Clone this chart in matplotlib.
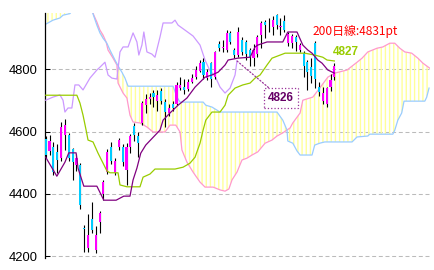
import numpy as np
import matplotlib.pyplot as plt

plt.rcParams['font.family'] = ['Liberation Sans', 'DejaVu Sans']

# daily candles, oldest first
opens = [4576, 4539, 4552, 4535, 4514, 4589, 4589, 4544, 4493, 4493,
         4290, 4227, 4320, 4220, 4311, 4400, 4471, 4550, 4468, 4550,
         4552, 4477, 4550, 4618, 4586, 4628, 4685, 4705, 4724, 4700,
         4730, 4695, 4660, 4690, 4690, 4740, 4745, 4738, 4760, 4775,
         4795, 4823, 4772, 4820, 4775, 4880, 4868, 4862, 4916, 4862,
         4846, 4894, 4888, 4862, 4835, 4850, 4910, 4952, 4950, 4936,
         4975, 4935, 4955, 4885, 4885, 4905, 4862, 4852, 4823, 4807,
         4884, 4745, 4700, 4690, 4745, 4775]
highs = [4585, 4590, 4568, 4560, 4632, 4642, 4595, 4548, 4528, 4500,
         4300, 4335, 4375, 4298, 4345, 4445, 4545, 4568, 4515, 4580,
         4562, 4565, 4592, 4628, 4600, 4700, 4720, 4725, 4735, 4735,
         4740, 4705, 4690, 4700, 4760, 4775, 4770, 4770, 4785, 4810,
         4830, 4835, 4800, 4825, 4860, 4890, 4895, 4925, 4922, 4870,
         4935, 4905, 4895, 4870, 4880, 4910, 4955, 4960, 4965, 4970,
         4978, 4965, 4975, 4920, 4915, 4910, 4885, 4858, 4830, 4835,
         4890, 4760, 4745, 4745, 4785, 4822]
lows = [4515, 4525, 4460, 4468, 4505, 4540, 4505, 4445, 4475, 4352,
        4215, 4214, 4275, 4210, 4275, 4382, 4465, 4495, 4460, 4540,
        4490, 4428, 4530, 4570, 4520, 4620, 4660, 4690, 4680, 4665,
        4690, 4615, 4650, 4665, 4685, 4735, 4720, 4730, 4755, 4770,
        4790, 4770, 4765, 4745, 4770, 4860, 4855, 4855, 4880, 4835,
        4840, 4845, 4830, 4810, 4810, 4840, 4870, 4900, 4920, 4910,
        4930, 4910, 4920, 4875, 4870, 4860, 4855, 4775, 4735, 4755,
        4740, 4715, 4690, 4680, 4730, 4765]
closes = [4525, 4571, 4471, 4509, 4616, 4622, 4514, 4503, 4514, 4365,
          4286, 4268, 4285, 4268, 4340, 4439, 4535, 4507, 4505, 4573,
          4503, 4550, 4585, 4589, 4563, 4692, 4705, 4711, 4711, 4718,
          4700, 4663, 4676, 4676, 4750, 4750, 4734, 4760, 4772, 4798,
          4820, 4782, 4790, 4770, 4856, 4868, 4872, 4917, 4888, 4846,
          4920, 4856, 4849, 4839, 4862, 4904, 4949, 4944, 4948, 4958,
          4942, 4940, 4926, 4912, 4907, 4888, 4878, 4810, 4790, 4778,
          4770, 4728, 4724, 4740, 4765, 4812]

# ichimoku lines as (bar, value)
tenkan_x = [0, 2.9, 5, 6, 7.9, 8.4, 9.9, 13.3, 15.1, 18.3, 20.3, 21.9, 22.7,
            23.7, 24.7, 26, 28, 29.7, 30.5, 32.3, 34.4, 36.7, 38.8, 40.1,
            41.4, 43.2, 44.8, 46.6, 47.4, 49.9, 53.1, 54.4, 55.1, 57.5, 61.6,
            62.9, 65.3, 66.8, 68.1, 69.2, 70.7, 71.8, 73.3, 75]
tenkan_y = [4518, 4457, 4502, 4532, 4532, 4483, 4425, 4425, 4380, 4380, 4393,
            4393, 4445, 4483, 4531, 4557, 4583, 4605, 4637, 4660, 4685, 4708,
            4743, 4759, 4775, 4782, 4791, 4814, 4830, 4836, 4839, 4872, 4878,
            4888, 4888, 4920, 4920, 4878, 4862, 4852, 4830, 4820, 4798, 4788]

kijun_x = [0, 8.1, 8.9, 9.7, 10.5, 11, 12.3, 13.6, 14.9, 15.9, 16.7, 18.8,
           19.3, 21.1, 24.5, 25.3, 27.1, 28.4, 33.6, 35.7, 37.5, 38.8, 40.1,
           40.9, 41.6, 43.2, 45.3, 46.6, 47.4, 49.2, 51.2, 53.1, 54.4, 55.7,
           57.5, 58.8, 62.2, 67.3, 69.9, 72, 73.1, 75]
kijun_y = [4717, 4717, 4692, 4653, 4605, 4573, 4567, 4531, 4499, 4474, 4468,
           4468, 4429, 4423, 4423, 4454, 4464, 4480, 4480, 4486, 4499, 4518,
           4563, 4605, 4637, 4663, 4663, 4685, 4717, 4740, 4750, 4756, 4772,
           4782, 4814, 4836, 4852, 4852, 4846, 4839, 4830, 4827]

chikou_x = [0, 1.9, 3.7, 4.5, 5, 5.8, 6.8, 7.6, 8.6, 9.7, 11.5, 13.3, 14.1,
            15.4, 16.2, 17.2, 18.5, 19.3, 20.1, 21.4, 22.7, 23.7, 24.2, 25,
            25.5, 26.3, 27.6, 28.4, 29.7, 30.5, 32.8, 33.6, 34.4, 36.2, 38.3,
            40.1, 41.4, 42.7, 44, 45.3, 46.6, 47.9, 49.2, 49.7]
chikou_y = [4701, 4711, 4718, 4701, 4663, 4676, 4676, 4750, 4750, 4734, 4772,
            4798, 4807, 4823, 4782, 4772, 4769, 4856, 4872, 4872, 4917, 4888,
            4846, 4878, 4920, 4856, 4849, 4839, 4904, 4949, 4949, 4958, 4942,
            4926, 4907, 4878, 4830, 4795, 4778, 4743, 4724, 4740, 4782, 4827]

span_a_x = [0, 11.5, 12.5, 13.3, 14.1, 14.9, 15.7, 16.2, 17.5, 18.5, 18.8,
            20.1, 21.1, 21.9, 22.7, 24.5, 26.3, 27.9, 31, 32.3, 33.8, 34.9,
            35.4, 36.7, 38.3, 40.1, 41.4, 43.5, 45.3, 46.6, 47.6, 48.4, 49.7,
            51, 52.3, 53.6, 55.1, 57, 58.8, 60.1, 61.6, 63.5, 64.2, 66.1,
            66.8, 69.4, 71.2, 73.3, 75.1, 78.3, 80.9, 82.2, 83.7, 86.1, 87.6,
            89.4, 90.7, 92, 93.3, 95.1, 96.7, 98, 100.2]
span_a_y = [5010, 5010, 4974, 4952, 4926, 4910, 4888, 4862, 4836, 4814, 4756,
            4724, 4708, 4653, 4631, 4628, 4615, 4599, 4599, 4621, 4621, 4599,
            4541, 4502, 4470, 4438, 4422, 4422, 4413, 4409, 4416, 4445, 4470,
            4509, 4515, 4525, 4535, 4563, 4573, 4586, 4596, 4612, 4628, 4660,
            4701, 4711, 4740, 4775, 4788, 4798, 4823, 4836, 4856, 4868, 4872,
            4884, 4884, 4868, 4856, 4852, 4836, 4820, 4800]

span_b_x = [0, 1.9, 3.7, 4.5, 6.3, 7.1, 11.8, 12.3, 13.3, 14.1, 14.9, 15.9,
            16.7, 18, 19, 19.8, 20.6, 21.4, 33.1, 34.1, 34.9, 40.9, 41.6, 43.2,
            45.3, 60.1, 61.6, 62.7, 62.9, 64.2, 65.3, 66.1, 69.2, 69.9, 71.2,
            72.5, 79.6, 80.9, 83.7, 84.2, 90.2, 90.7, 91.5, 92.5, 93.1, 98.5,
            99, 99.6]
span_b_y = [4945, 4958, 4965, 4974, 4979, 4995, 4995, 4978, 4942, 4917, 4900,
            4884, 4862, 4830, 4807, 4791, 4772, 4746, 4746, 4711, 4695, 4695,
            4685, 4679, 4663, 4663, 4637, 4605, 4570, 4563, 4538, 4525, 4525,
            4557, 4563, 4567, 4567, 4583, 4586, 4592, 4592, 4605, 4637, 4660,
            4698, 4698, 4711, 4740]

yticks = [4200, 4400, 4600, 4800]

fig = plt.figure(figsize=(4.34, 2.70), dpi=100)
ax = fig.add_axes([45 / 434, 12.5 / 270, 385 / 434, 244.5 / 270])

# cloud, hatched in pale yellow
cloud_x = np.concatenate([span_a_x, span_b_x[::-1]])
cloud_y = np.concatenate([span_a_y, span_b_y[::-1]])
ax.fill(cloud_x, cloud_y, facecolor='none', edgecolor='#FFFF99',
        hatch='||||', linewidth=0, zorder=1)
ax.plot(span_a_x, span_a_y, color='#FF99CC', lw=0.9, zorder=2)
ax.plot(span_b_x, span_b_y, color='#99CCFF', lw=0.9, zorder=2)
ax.plot(chikou_x, chikou_y, color='#CC99FF', lw=0.9, zorder=3)

# candles
o = np.array(opens)
c = np.array(closes)
idx = np.arange(len(o))
up = c >= o
ax.vlines(idx, lows, highs, color='black', lw=0.8, zorder=4)
ax.bar(idx[up], (c - o)[up], bottom=o[up], width=0.55,
       color='#FF00FF', zorder=5)
ax.bar(idx[~up], (o - c)[~up], bottom=c[~up], width=0.55,
       color='#00CCFF', zorder=5)

ax.plot(kijun_x, kijun_y, color='#99CC00', lw=0.9, zorder=6)
ax.plot(tenkan_x, tenkan_y, color='#800080', lw=0.9, zorder=6)

ax.set_xlim(-0.18, 99.85)
ax.set_ylim(4196, 4981)
ax.set_yticks(yticks)
ax.set_yticklabels([str(t) for t in yticks], fontsize=9.3)
ax.set_xticks([])
ax.tick_params(axis='y', direction='in', length=3.6, width=0.75, pad=5.5)
ax.yaxis.grid(True, color='#BBBBBB', lw=0.75, linestyle=(0, (3.8, 2.6)))
ax.set_axisbelow(True)
for side in ['top', 'right', 'bottom']:
    ax.spines[side].set_visible(False)
ax.spines['left'].set_linewidth(0.9)

# labels
ax.text(0.696, 0.926, '200日線:4831pt', transform=ax.transAxes,
        fontsize=8.6, color='#FF0000', va='center', ha='left',
        family=['Noto Sans CJK JP', 'DejaVu Sans'])
ax.text(0.748, 0.840, '4827', transform=ax.transAxes, fontsize=8.5,
        fontweight='bold', color='#99CC00', va='center', ha='left', zorder=8)
ax.annotate('4826', xy=(chikou_x[-1], chikou_y[-1]), xytext=(0.613, 0.652),
            textcoords='axes fraction', fontsize=8.5, fontweight='bold',
            color='#660066', ha='center', va='center', zorder=8,
            bbox=dict(boxstyle='square,pad=0.35', fc='white', ec='#993399',
                      ls=':', lw=0.9),
            arrowprops=dict(arrowstyle='-', color='#993399', ls=':', lw=0.9,
                            shrinkA=0, shrinkB=0))

fig.savefig('out.png', dpi=100)
